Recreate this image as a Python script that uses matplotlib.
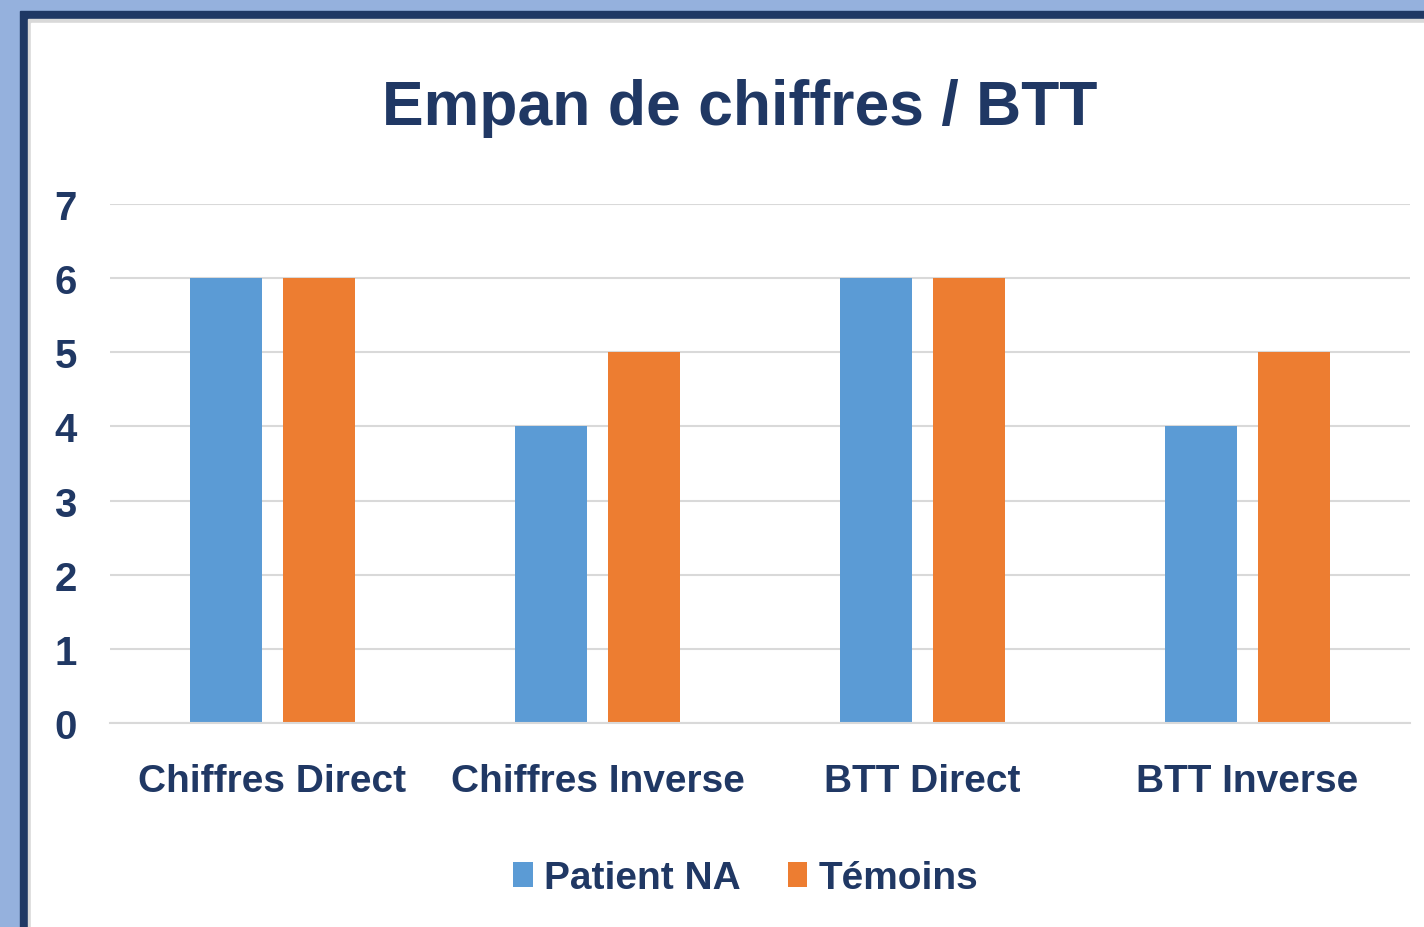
import matplotlib.pyplot as plt
from matplotlib.patches import Rectangle
import numpy as np

categories = ["Chiffres Direct", "Chiffres Inverse", "BTT Direct", "BTT Inverse"]
patient_na = [6, 4, 6, 4]
temoins = [6, 5, 6, 5]
series_names = ["Patient NA", "Témoins"]

navy = "#203864"
blue = "#5B9BD5"
orange = "#ED7D31"
font = ["Liberation Sans Narrow", "Liberation Sans", "DejaVu Sans"]
plt.rcParams["font.family"] = font

W, H = 1424, 928
fig = plt.figure(figsize=(W / 100, H / 100), dpi=100, facecolor="#95B1DD")

# frame: navy border, thin grey shadow, white panel
def px_rect(x0, y0, color):
    fig.patches.append(Rectangle((x0 / W, 0), 1 - x0 / W, 1 - y0 / H,
                                 transform=fig.transFigure, color=color, zorder=-5))
px_rect(20, 12, "#1F3864")
px_rect(28, 20, "#D9D9D9")
px_rect(31, 24, "white")

ax = fig.add_axes([110 / W, 204 / H, 1300 / W, 519 / H])
ax.set_zorder(2)
ax.set_facecolor("none")
x = np.arange(len(categories))
w = 0.22
off = 0.143
b1 = ax.bar(x - off, patient_na, w, color=blue, label=series_names[0], zorder=2)
b2 = ax.bar(x + off, temoins, w, color=orange, label=series_names[1], zorder=2)

ax.set_xlim(-0.5, 3.5)
ax.set_ylim(0, 7)
ax.set_yticks(range(0, 8))
ax.yaxis.grid(True, color="#D9D9D9", linewidth=1.5, zorder=1)
ax.set_axisbelow(True)
for s in ["top", "right", "left"]:
    ax.spines[s].set_visible(False)
ax.spines["bottom"].set_color("#D9D9D9")
ax.spines["bottom"].set_linewidth(1.5)
ax.set_xticks(x)
ax.set_xticklabels(categories)
ax.tick_params(axis="both", length=0, colors=navy)
ax.tick_params(axis="y", pad=24, labelsize=29)
ax.tick_params(axis="x", pad=29, labelsize=28)
for lab in ax.get_xticklabels() + ax.get_yticklabels():
    lab.set_fontweight("bold")

fig.text(740 / W, 1 - 108 / H, "Empan de chiffres / BTT", ha="center", va="center",
         fontsize=45, fontweight="bold", color=navy)

leg = fig.legend(handles=[b1, b2], loc="center", bbox_to_anchor=(746 / W, 1 - 879 / H),
                 ncol=2, frameon=False, fontsize=28, handlelength=0.5, handleheight=0.6,
                 handletextpad=0.3, columnspacing=1.2)
for t in leg.get_texts():
    t.set_color(navy)
    t.set_fontweight("bold")

fig.savefig("out.png", dpi=100, facecolor=fig.get_facecolor())
